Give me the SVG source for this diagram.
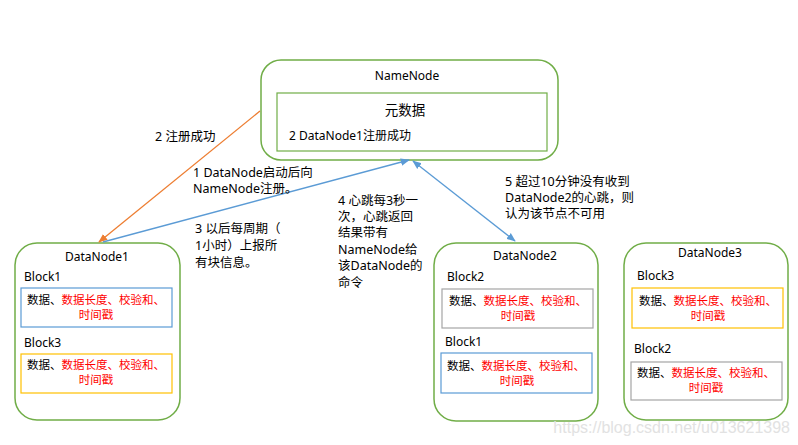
<svg xmlns="http://www.w3.org/2000/svg" width="798" height="445" viewBox="0 0 798 445">
<style>
text{font-family:"Noto Sans","Noto Sans CJK SC",sans-serif;fill:#000}
.node{fill:#fff;stroke:#70AD47;stroke-width:1.5}
.inner{fill:#fff;stroke:#70AD47;stroke-width:1.2}
.t12{font-size:12px}
.lbl{font-size:12.5px}
.blk{font-size:11.5px}
.red{fill:#FF0000}
.b-blue{fill:#fff;stroke:#5B9BD5;stroke-width:1.2}
.b-orange{fill:#fff;stroke:#FFC000;stroke-width:1.2}
.b-gray{fill:#fff;stroke:#A5A5A5;stroke-width:1.2}
.c{text-anchor:middle}
</style>
<defs>
<marker id="ao" viewBox="0 0 10 10" refX="9" refY="5" markerWidth="7" markerHeight="7" orient="auto"><path d="M0,1 L10,5 L0,9 z" fill="#ED7D31"/></marker>
<marker id="ab" viewBox="0 0 10 10" refX="9" refY="5" markerWidth="7" markerHeight="7" orient="auto-start-reverse"><path d="M0,1 L10,5 L0,9 z" fill="#5B9BD5"/></marker>
</defs>
<rect width="798" height="445" fill="#fff"/>

<g id="NameNode">
<rect class="node" x="261" y="60" width="297" height="100" rx="20"/>
<text class="t12 c" x="407" y="80">NameNode</text>
<rect class="inner" x="277" y="93" width="270" height="58"/>
<text class="c" style="font-size:13.5px" x="405" y="115">元数据</text>
<text class="t12" x="289" y="140">2 DataNode1注册成功</text>
</g>

<g id="DataNode1">
<rect class="node" x="15" y="243" width="165" height="177" rx="22"/>
<text class="t12 c" x="97" y="261">DataNode1</text>
<text class="t12" x="24" y="281">Block1</text>
<rect class="b-blue" x="21" y="288" width="151" height="39"/>
<text class="blk" x="27" y="304">数据、<tspan class="red">数据长度、校验和、</tspan></text>
<text class="blk red c" x="96" y="319">时间戳</text>
<text class="t12" x="24" y="347">Block3</text>
<rect class="b-orange" x="21" y="354" width="151" height="39"/>
<text class="blk" x="27" y="369">数据、<tspan class="red">数据长度、校验和、</tspan></text>
<text class="blk red c" x="96" y="384">时间戳</text>
</g>

<g id="DataNode2">
<rect class="node" x="434" y="243" width="164" height="178" rx="22"/>
<text class="t12 c" x="525" y="260">DataNode2</text>
<text class="t12" x="447" y="281">Block2</text>
<rect class="b-gray" x="442" y="289" width="151" height="39"/>
<text class="blk" x="449" y="305">数据、<tspan class="red">数据长度、校验和、</tspan></text>
<text class="blk red c" x="518" y="320">时间戳</text>
<text class="t12" x="445" y="346">Block1</text>
<rect class="b-blue" x="441" y="353" width="151" height="40"/>
<text class="blk" x="447" y="370">数据、<tspan class="red">数据长度、校验和、</tspan></text>
<text class="blk red c" x="517" y="385">时间戳</text>
</g>

<g id="DataNode3">
<rect class="node" x="624" y="243" width="164" height="177" rx="22"/>
<text class="t12 c" x="710" y="257">DataNode3</text>
<text class="t12" x="637" y="280">Block3</text>
<rect class="b-orange" x="632" y="288" width="151" height="40"/>
<text class="blk" x="639" y="305">数据、<tspan class="red">数据长度、校验和、</tspan></text>
<text class="blk red c" x="708" y="320">时间戳</text>
<text class="t12" x="634" y="353">Block2</text>
<rect class="b-gray" x="631" y="362" width="151" height="38"/>
<text class="blk" x="637" y="377">数据、<tspan class="red">数据长度、校验和、</tspan></text>
<text class="blk red c" x="706" y="392">时间戳</text>
</g>

<g id="connectors" fill="none" stroke-width="1.3">
<line x1="260" y1="111" x2="99" y2="242" stroke="#ED7D31" marker-end="url(#ao)"/>
<line x1="103" y1="242" x2="409" y2="160" stroke="#5B9BD5" marker-end="url(#ab)"/>
<line x1="413" y1="161" x2="515" y2="241" stroke="#5B9BD5" marker-start="url(#ab)" marker-end="url(#ab)"/>
</g>

<g id="labels">
<text class="lbl" x="155" y="141">2 注册成功</text>
<text class="lbl" x="193" y="177">1 DataNode启动后向</text>
<text class="lbl" x="193" y="193">NameNode注册。</text>
<text class="lbl" x="195" y="233">3 以后每周期（</text>
<text class="lbl" x="195" y="250">1小时）上报所</text>
<text class="lbl" x="195" y="267">有块信息。</text>
<text class="lbl" x="338" y="205">4 心跳每3秒一</text>
<text class="lbl" x="338" y="221">次，心跳返回</text>
<text class="lbl" x="338" y="237">结果带有</text>
<text class="lbl" x="338" y="254">NameNode给</text>
<text class="lbl" x="338" y="270">该DataNode的</text>
<text class="lbl" x="338" y="287">命令</text>
<text class="lbl" x="505" y="186">5 超过10分钟没有收到</text>
<text class="lbl" x="505" y="202">DataNode2的心跳，则</text>
<text class="lbl" x="505" y="218">认为该节点不可用</text>
</g>
<text x="790" y="433" text-anchor="end" style="font-family:'Liberation Sans',sans-serif;font-size:16px;fill:#e2e2e2">https://blog.csdn.net/u013621398</text>
</svg>
